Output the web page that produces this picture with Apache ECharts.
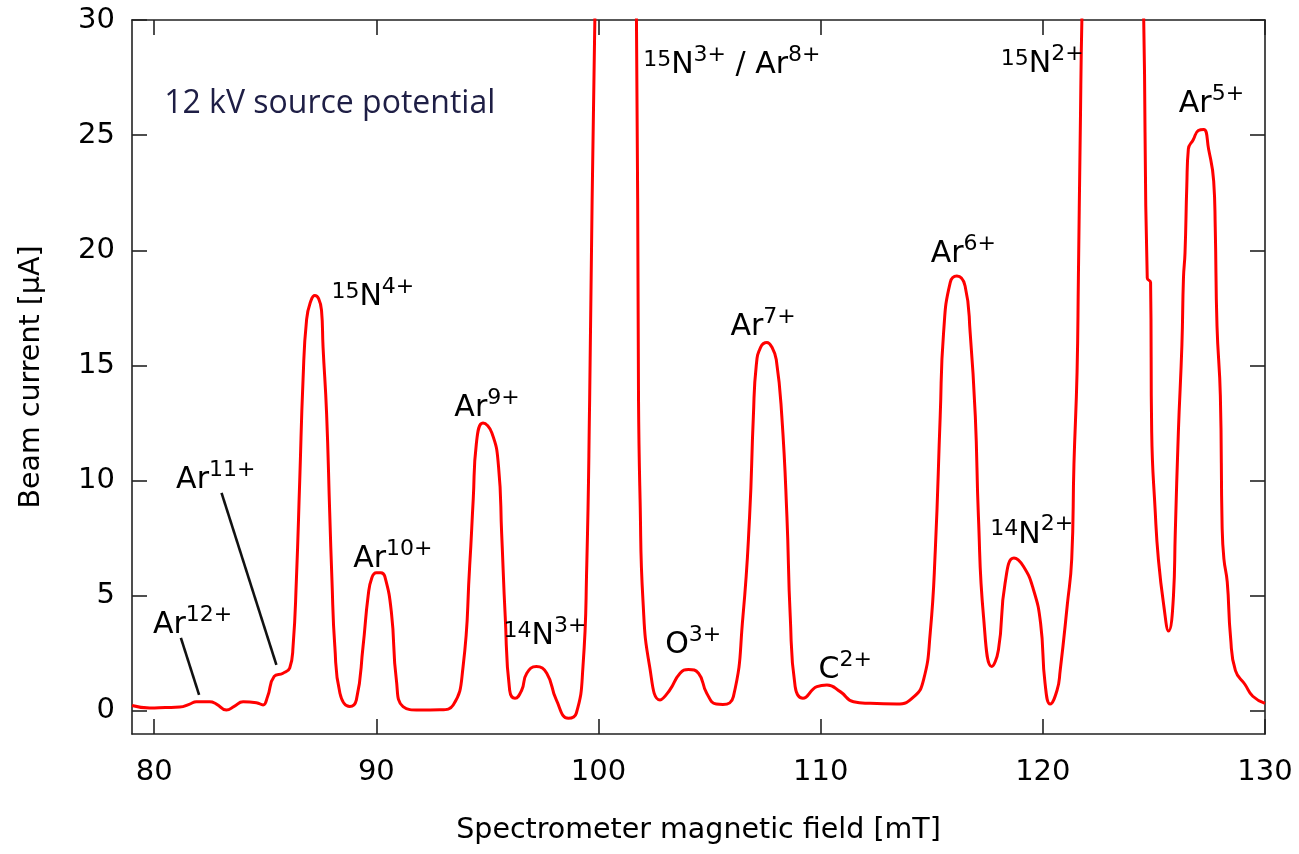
<!DOCTYPE html>
<html>
<head>
<meta charset="utf-8">
<script src="https://cdn.jsdelivr.net/npm/echarts@6/dist/echarts.min.js"></script>
<style>
  html, body { margin: 0; padding: 0; background: #fff; }
  #chart { width: 1299px; height: 854px; }
</style>
</head>
<body>
<div id="chart"></div>
<script>
// ---- data ----
// magnetic field [mT]
const fieldMT = [
  79.0, 79.8, 80.5, 81.15, 81.6, 81.9, 82.5, 82.8, 83.25, 83.6, 84.0, 84.6, 84.9, 85.1, 85.4, 85.8, 86.1,
  86.25, 86.4, 86.55, 86.7, 86.86, 87.05, 87.23, 87.4, 87.53, 87.6, 87.76, 87.9, 88.0, 88.13, 88.36, 88.8,
  89.1, 89.4, 89.63, 89.8, 90.0, 90.2, 90.38, 90.68, 90.9, 91.2, 91.96, 92.86, 93.46, 93.9, 94.2, 94.36,
  94.5, 94.8, 95.2, 95.5, 95.64, 95.8, 96.0, 96.24, 96.54, 96.77, 97.2, 97.67, 98.1, 98.64, 99.0, 99.3,
  99.47, 99.6, 99.85, 100.3, 100.8, 101.3, 101.7, 101.8, 101.87, 102.0, 102.3, 102.77, 103.2, 103.67, 104.05,
  104.5, 104.87, 105.3, 105.6, 106.07, 106.5, 106.8, 106.97, 107.1, 107.3, 107.58, 107.8, 108.0, 108.25,
  108.48, 108.63, 108.85, 109.2, 109.83, 110.28, 110.88, 111.48, 112.23, 113.43, 114.2, 114.63, 114.93,
  115.16, 115.38, 115.53, 115.83, 116.13, 116.5, 116.73, 116.96, 117.1, 117.33, 117.7, 118.0, 118.3, 118.7,
  119.13, 119.58, 119.9, 120.1, 120.33, 120.64, 120.78, 121.1, 121.3, 121.4, 121.54, 121.6, 121.68, 121.78,
  122.3, 123.2, 124.0, 124.52, 124.7, 124.85, 124.9, 125.06, 125.2, 125.44, 125.66, 125.88, 125.96, 126.1,
  126.26, 126.33, 126.4, 126.48, 126.55, 126.77, 127.0, 127.24, 127.46, 127.69, 127.76, 127.84, 127.99,
  128.07, 128.15, 128.3, 128.45, 128.67, 129.1, 129.45, 130.0
];
// beam current [uA]
const beamCurrent = [
  0.24, 0.13, 0.15, 0.17, 0.3, 0.4, 0.4, 0.3, 0.04, 0.2, 0.4, 0.36, 0.26, 0.62, 1.5, 1.64, 1.87,
  2.8, 5.7, 10.0, 14.4, 17.0, 17.8, 18.04, 17.9, 17.4, 15.8, 12.9, 8.6, 5.7, 2.8, 0.77, 0.19,
  0.48, 2.8, 5.0, 5.8, 6.0, 6.0, 5.84, 4.25, 1.35, 0.19, 0.04, 0.05, 0.26, 1.9, 6.3, 9.2,
  11.6, 12.5, 12.07, 10.6, 7.7, 4.1, 0.9, 0.55, 0.9, 1.64, 1.93, 1.64, 0.48, -0.32, -0.1, 1.93,
  6.3, 13.5, 31, 50, 60, 50, 31, 13.5, 9.2, 4.8, 1.93, 0.48, 0.9, 1.64, 1.8,
  1.64, 0.77, 0.3, 0.28, 0.62, 4.1, 8.45, 12.8, 15.0, 15.8, 16.0, 15.8, 15.26, 12.8,
  8.45, 4.1, 1.06, 0.55, 1.06, 1.13, 0.84, 0.4, 0.33, 0.3, 0.62, 1.35, 3.38,
  7.0, 12.8, 16.4, 18.6, 18.88, 18.45, 16.4, 12.8, 8.45, 4.1, 1.93, 2.65, 5.55, 6.64,
  6.27, 5.26, 3.8, 1.2, 0.3, 0.9, 1.75, 4.6, 6.6, 10.7, 14.7, 18.8, 24.8, 31,
  50, 60, 50, 31, 18.8, 18.6, 12.1, 8.64, 6.6, 4.6, 3.47, 5.0, 7.7, 12.1,
  15.9, 18.8, 19.9, 22.8, 24.4, 24.8, 25.2, 25.25, 24.4, 23.0, 21.0, 16.7, 13.7,
  8.0, 6.6, 5.6, 3.2, 1.75, 1.15, 0.64, 0.33
];
// axis ticks
const xTicks = [80, 90, 100, 110, 120, 130];
const yTicks = [0, 5, 10, 15, 20, 25, 30];
// peak labels: [isotope mass, element, charge]
const labelIso = ['', '', '15', '', '', '14', '15', '', '', '', '', '14', '15', ''];
const labelEl = ['Ar', 'Ar', 'N', 'Ar', 'Ar', 'N', 'N', 'O', 'Ar', 'C', 'Ar', 'N', 'N', 'Ar'];
const labelCharge = ['12+', '11+', '4+', '10+', '9+', '3+', '3+', '3+', '7+', '2+', '6+', '2+', '2+', '5+'];
const labelSuffix = ['', '', '', '', '', '', ' / Ar', '', '', '', '', '', '', ''];
const labelSuffixCharge = ['', '', '', '', '', '', '8+', '', '', '', '', '', '', ''];
// label anchor points in data coordinates [mT, uA]
const labelX = [81.73, 82.77, 89.84, 90.74, 94.98, 97.59, 106.0, 104.26, 107.41, 111.1, 116.42, 119.5, 119.97, 127.59];
const labelY = [3.87, 10.13, 18.1, 6.7, 13.26, 3.39, 28.17, 3.0, 16.78, 1.91, 19.96, 7.78, 28.2, 26.48];
// leader lines for Ar12+ and Ar11+ [from, to]
const leader12 = [[81.2, 3.17], [82.02, 0.7]];
const leader11 = [[83.03, 9.47], [85.5, 2.0]];
const noteText = '12 kV source potential';
const notePos = [87.9, 26.35];

// ---- chart ----
const chart = echarts.init(document.getElementById('chart'), null, { renderer: 'canvas' });
const lineData = fieldMT.map((x, i) => [x, beamCurrent[i]]);
const labelData = labelX.map((x, i) => [x, labelY[i], i]);

const FONT = "'DejaVu Sans', Verdana, sans-serif";
const noBorder = { textBorderWidth: 0, textBorderColor: 'transparent', textShadowBlur: 0 };
const richStyles = {
  b: Object.assign({ fontSize: 30, fontFamily: FONT, color: '#000', verticalAlign: 'bottom', lineHeight: 36 }, noBorder),
  s: Object.assign({ fontSize: 22, fontFamily: FONT, color: '#000', verticalAlign: 'bottom', padding: [0, 0, 14, 0], lineHeight: 26 }, noBorder),
  i: Object.assign({ fontSize: 22, fontFamily: FONT, color: '#000', verticalAlign: 'bottom', padding: [0, 0, 9, 0], lineHeight: 26 }, noBorder)
};

function fmtLabel(i) {
  let t = '';
  if (labelIso[i]) t += '{i|' + labelIso[i] + '}';
  t += '{b|' + labelEl[i] + '}';
  t += '{s|' + labelCharge[i] + '}';
  if (labelSuffix[i]) t += '{b|' + labelSuffix[i] + '}{s|' + labelSuffixCharge[i] + '}';
  return t;
}

const axisLineStyle = { color: '#222', width: 1.6 };

chart.setOption({
  animation: false,
  backgroundColor: '#fff',
  grid: { left: 132, right: 34, top: 20, bottom: 120, containLabel: false },
  xAxis: [
    {
      type: 'value', min: 79, max: 130,
      axisLine: { show: true, lineStyle: axisLineStyle, onZero: false },
      axisTick: { show: true, inside: true, length: 15, lineStyle: axisLineStyle, customValues: xTicks },
      axisLabel: { show: true, customValues: xTicks, fontSize: 29, fontFamily: FONT, color: '#000', margin: 24 },
      splitLine: { show: false },
      name: 'Spectrometer magnetic field [mT]', nameLocation: 'middle', nameGap: 82,
      nameTextStyle: { fontSize: 28.5, fontFamily: FONT, color: '#000' }
    },
    {
      type: 'value', min: 79, max: 130, position: 'top',
      axisLine: { show: true, lineStyle: axisLineStyle, onZero: false },
      axisTick: { show: true, inside: true, length: 15, lineStyle: axisLineStyle, customValues: xTicks },
      axisLabel: { show: false }, splitLine: { show: false }
    }
  ],
  yAxis: [
    {
      type: 'value', min: -1, max: 30,
      axisLine: { show: true, lineStyle: axisLineStyle, onZero: false },
      axisTick: { show: true, inside: true, length: 15, lineStyle: axisLineStyle, customValues: yTicks },
      axisLabel: { show: true, customValues: yTicks, fontSize: 29, fontFamily: FONT, color: '#000', margin: 17 },
      splitLine: { show: false },
      name: 'Beam current [\u03bcA]', nameLocation: 'middle', nameGap: 86, nameRotate: 90,
      nameTextStyle: { fontSize: 28.5, fontFamily: FONT, color: '#000' }
    },
    {
      type: 'value', min: -1, max: 30, position: 'right',
      axisLine: { show: true, lineStyle: axisLineStyle, onZero: false },
      axisTick: { show: true, inside: true, length: 15, lineStyle: axisLineStyle, customValues: yTicks },
      axisLabel: { show: false }, splitLine: { show: false }
    }
  ],
  series: [
    {
      type: 'line', data: lineData, xAxisIndex: 0, yAxisIndex: 0,
      showSymbol: false, symbol: 'none', clip: true,
      smooth: 0.5,
      lineStyle: { color: '#ff0000', width: 3 },
      z: 3
    },
    {
      type: 'line', data: leader12, showSymbol: false, symbol: 'none',
      lineStyle: { color: '#111', width: 2.6 }, z: 2
    },
    {
      type: 'line', data: leader11, showSymbol: false, symbol: 'none',
      lineStyle: { color: '#111', width: 2.6 }, z: 2
    },
    {
      type: 'scatter', data: labelData, symbolSize: 0, silent: true, z: 5,
      itemStyle: { color: '#000', opacity: 1 },
      label: Object.assign({
        show: true, position: 'inside', align: 'center', verticalAlign: 'middle', color: '#000',
        formatter: (p) => fmtLabel(p.data[2]),
        rich: richStyles
      }, noBorder)
    },
    {
      type: 'scatter', data: [notePos], symbolSize: 0, silent: true, z: 5,
      itemStyle: { color: '#000', opacity: 1 },
      label: Object.assign({
        show: true, position: 'inside', align: 'center', verticalAlign: 'middle',
        formatter: noteText, fontSize: 32, fontFamily: "'Open Sans', sans-serif", color: '#1e1e45'
      }, noBorder)
    }
  ]
});
</script>
</body>
</html>
